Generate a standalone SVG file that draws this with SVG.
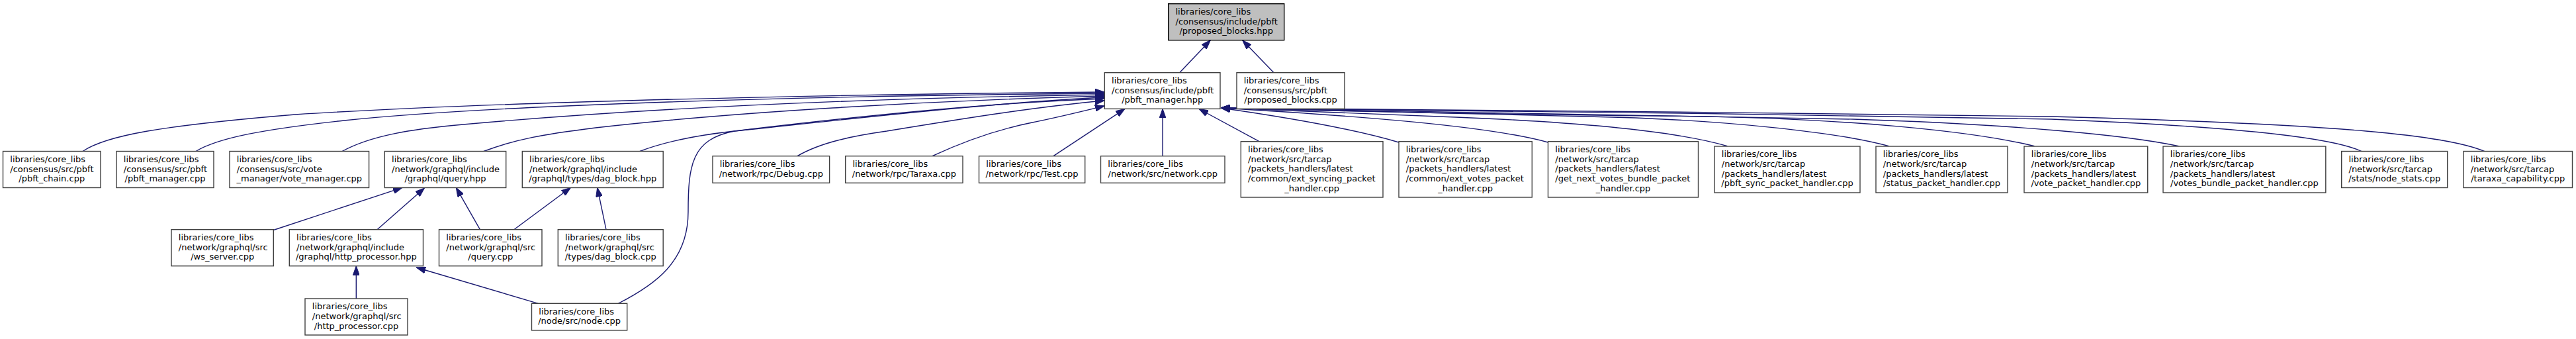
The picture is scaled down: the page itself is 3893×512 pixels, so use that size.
<svg xmlns="http://www.w3.org/2000/svg" width="3893" height="512" viewBox="0 0 3893 512">
<style>
.n rect{fill:#fff;stroke:#404040;stroke-width:1.4}
.root rect{fill:#bfbfbf;stroke:#000}
text{font-family:"DejaVu Sans","Liberation Sans",sans-serif;font-size:13px;fill:#000}
.c{text-anchor:middle}
#edges path{fill:none;stroke:#191970;stroke-width:1.4;marker-end:url(#ah)}
</style>
<defs>
<marker id="ah" markerUnits="userSpaceOnUse" viewBox="0 0 14 10" markerWidth="14" markerHeight="10" refX="14" refY="5" orient="auto">
<path d="M0,0 L14,5 L0,10 z" fill="#191970" stroke="#191970" stroke-width="1"/>
</marker>
</defs>
<rect width="3893" height="512" fill="#fff"/>
<g id="edges">
<path d="M1782.7,109.7 L1829.3,60.7"/>
<path d="M1925,109.7 L1877.7,60.7"/>
<path d="M125,228.5 C160,205 240,190 446,173 C600,163 1000,145 1669,139"/>
<path d="M296,228.5 C330,208 400,195 520,182 C700,163 1100,146 1669,141"/>
<path d="M517,228.5 C560,205 620,195 700,188 C900,170 1200,150 1669,143"/>
<path d="M731,228.5 C780,210 820,203 900,193 C1100,170 1400,152 1669,145"/>
<path d="M967,228.5 C1010,212 1060,203 1120,197 C1300,178 1500,155 1669,147"/>
<path d="M934,458.5 C990,430 1040,395 1040,320 C1040,250 1045,210 1110,198 C1300,175 1500,155 1669,149"/>
<path d="M1205,235.7 C1240,215 1290,205 1340,198 C1450,180 1560,162 1669,152"/>
<path d="M1409,235.7 C1460,212 1510,195 1560,185 C1600,177 1640,167 1669,160"/>
<path d="M1592,235.7 L1700,164.3"/>
<path d="M1757,235.7 L1757,164.3"/>
<path d="M1903,213.7 L1812,164.5"/>
<path d="M2114,215 C2050,196 1950,178 1845,163"/>
<path d="M2339.5,215 C2250,190 2050,175 1845,163"/>
<path d="M2610.5,220.7 C2540,200 2400,185 2200,177 C2050,171 1950,167 1845,163"/>
<path d="M2854.5,220.7 C2780,200 2600,180 2400,176 C2200,172 2000,167 1845,163"/>
<path d="M3074.6,220.7 C2990,200 2800,177 2500,175 C2200,172 2000,167 1845,163"/>
<path d="M3293.7,221 C3220,205 3050,188 2800,180 C2400,170 2100,166 1845,163"/>
<path d="M3569,228.7 C3520,205 3350,190 3100,180 C2700,172 2200,167 1845,163"/>
<path d="M3755,228.7 C3700,205 3550,188 3100,176 C2700,170 2200,166 1845,163"/>
<path d="M413.3,347.5 L608,283.3"/>
<path d="M570,346.7 L641.5,284"/>
<path d="M725.4,346.7 L689.3,283.3"/>
<path d="M776.8,346.7 L862.5,283.3"/>
<path d="M916,346.7 L902.7,283.3"/>
<path d="M538.3,451 L538.3,401.7"/>
<path d="M813.3,458.3 L629.3,404"/>
</g>
<g id="n_root" class="n root"><rect x="1765.7" y="5.7" width="175" height="55"/>
<text x="1776.5" y="22">libraries/core_libs</text><text x="1776.5" y="36.7">/consensus/include/pbft</text><text class="c" x="1853.2" y="51.4">/proposed_blocks.hpp</text></g>
<g id="n_pbft_manager_hpp" class="n"><rect x="1669.3" y="109.7" width="174.7" height="54.7"/>
<text x="1680.1" y="126">libraries/core_libs</text><text x="1680.1" y="140.7">/consensus/include/pbft</text><text class="c" x="1756.7" y="155.4">/pbft_manager.hpp</text></g>
<g id="n_proposed_blocks_cpp" class="n"><rect x="1869" y="109.7" width="163" height="54.7"/>
<text x="1879.8" y="126">libraries/core_libs</text><text x="1879.8" y="140.7">/consensus/src/pbft</text><text class="c" x="1950.5" y="155.4">/proposed_blocks.cpp</text></g>
<g id="n_pbft_chain" class="n"><rect x="4.5" y="228.5" width="147.5" height="55"/>
<text x="15.3" y="244.8">libraries/core_libs</text><text x="15.3" y="259.5">/consensus/src/pbft</text><text class="c" x="78.25" y="274.2">/pbft_chain.cpp</text></g>
<g id="n_pbft_manager_cpp" class="n"><rect x="176" y="228.5" width="147" height="55"/>
<text x="186.8" y="244.8">libraries/core_libs</text><text x="186.8" y="259.5">/consensus/src/pbft</text><text class="c" x="249.5" y="274.2">/pbft_manager.cpp</text></g>
<g id="n_vote_manager" class="n"><rect x="347" y="228.5" width="210.6" height="55"/>
<text x="357.8" y="244.8">libraries/core_libs</text><text x="357.8" y="259.5">/consensus/src/vote</text><text class="c" x="452.3" y="274.2">_manager/vote_manager.cpp</text></g>
<g id="n_query_hpp" class="n"><rect x="581.3" y="228.5" width="183.4" height="55"/>
<text x="592.1" y="244.8">libraries/core_libs</text><text x="592.1" y="259.5">/network/graphql/include</text><text class="c" x="673" y="274.2">/graphql/query.hpp</text></g>
<g id="n_dag_block_hpp" class="n"><rect x="789.3" y="228.5" width="212.9" height="55"/>
<text x="800.1" y="244.8">libraries/core_libs</text><text x="800.1" y="259.5">/network/graphql/include</text><text class="c" x="895.75" y="274.2">/graphql/types/dag_block.hpp</text></g>
<g id="n_debug" class="n"><rect x="1077" y="235.7" width="176.6" height="40.6"/>
<text x="1087.8" y="252">libraries/core_libs</text><text class="c" x="1165.3" y="266.7">/network/rpc/Debug.cpp</text></g>
<g id="n_taraxa" class="n"><rect x="1277.7" y="235.7" width="177.3" height="40.6"/>
<text x="1288.5" y="252">libraries/core_libs</text><text class="c" x="1366.35" y="266.7">/network/rpc/Taraxa.cpp</text></g>
<g id="n_test" class="n"><rect x="1479.5" y="235.7" width="160.2" height="40.6"/>
<text x="1490.3" y="252">libraries/core_libs</text><text class="c" x="1559.6" y="266.7">/network/rpc/Test.cpp</text></g>
<g id="n_network" class="n"><rect x="1663.5" y="235.7" width="187.5" height="40.6"/>
<text x="1674.3" y="252">libraries/core_libs</text><text class="c" x="1757.25" y="266.7">/network/src/network.cpp</text></g>
<g id="n_ext_syncing" class="n"><rect x="1875.3" y="213.7" width="214.7" height="84.3"/>
<text x="1886.1" y="230">libraries/core_libs</text><text x="1886.1" y="244.7">/network/src/tarcap</text><text x="1886.1" y="259.4">/packets_handlers/latest</text><text x="1886.1" y="274.1">/common/ext_syncing_packet</text><text class="c" x="1982.65" y="288.8">_handler.cpp</text></g>
<g id="n_ext_votes" class="n"><rect x="2114" y="213.7" width="201.3" height="84.3"/>
<text x="2124.8" y="230">libraries/core_libs</text><text x="2124.8" y="244.7">/network/src/tarcap</text><text x="2124.8" y="259.4">/packets_handlers/latest</text><text x="2124.8" y="274.1">/common/ext_votes_packet</text><text class="c" x="2214.65" y="288.8">_handler.cpp</text></g>
<g id="n_get_next_votes" class="n"><rect x="2339.5" y="213.7" width="227" height="84.3"/>
<text x="2350.3" y="230">libraries/core_libs</text><text x="2350.3" y="244.7">/network/src/tarcap</text><text x="2350.3" y="259.4">/packets_handlers/latest</text><text x="2350.3" y="274.1">/get_next_votes_bundle_packet</text><text class="c" x="2453" y="288.8">_handler.cpp</text></g>
<g id="n_pbft_sync" class="n"><rect x="2591" y="221" width="220" height="70"/>
<text x="2601.8" y="237.3">libraries/core_libs</text><text x="2601.8" y="252">/network/src/tarcap</text><text x="2601.8" y="266.7">/packets_handlers/latest</text><text class="c" x="2701" y="281.4">/pbft_sync_packet_handler.cpp</text></g>
<g id="n_status" class="n"><rect x="2835" y="221" width="199" height="70"/>
<text x="2845.8" y="237.3">libraries/core_libs</text><text x="2845.8" y="252">/network/src/tarcap</text><text x="2845.8" y="266.7">/packets_handlers/latest</text><text class="c" x="2934.5" y="281.4">/status_packet_handler.cpp</text></g>
<g id="n_vote_packet" class="n"><rect x="3059" y="221" width="186.7" height="70"/>
<text x="3069.8" y="237.3">libraries/core_libs</text><text x="3069.8" y="252">/network/src/tarcap</text><text x="3069.8" y="266.7">/packets_handlers/latest</text><text class="c" x="3152.35" y="281.4">/vote_packet_handler.cpp</text></g>
<g id="n_votes_bundle" class="n"><rect x="3269" y="221" width="245.8" height="70"/>
<text x="3279.8" y="237.3">libraries/core_libs</text><text x="3279.8" y="252">/network/src/tarcap</text><text x="3279.8" y="266.7">/packets_handlers/latest</text><text class="c" x="3391.9" y="281.4">/votes_bundle_packet_handler.cpp</text></g>
<g id="n_node_stats" class="n"><rect x="3538.7" y="228.5" width="160" height="55"/>
<text x="3549.5" y="244.8">libraries/core_libs</text><text x="3549.5" y="259.5">/network/src/tarcap</text><text class="c" x="3618.7" y="274.2">/stats/node_stats.cpp</text></g>
<g id="n_taraxa_capability" class="n"><rect x="3723" y="228.5" width="164.5" height="55"/>
<text x="3733.8" y="244.8">libraries/core_libs</text><text x="3733.8" y="259.5">/network/src/tarcap</text><text class="c" x="3805.25" y="274.2">/taraxa_capability.cpp</text></g>
<g id="n_ws_server" class="n"><rect x="259" y="346.7" width="154.3" height="55"/>
<text x="269.8" y="363">libraries/core_libs</text><text x="269.8" y="377.7">/network/graphql/src</text><text class="c" x="336.15" y="392.4">/ws_server.cpp</text></g>
<g id="n_http_processor_hpp" class="n"><rect x="437.3" y="346.7" width="202.2" height="55"/>
<text x="448.1" y="363">libraries/core_libs</text><text x="448.1" y="377.7">/network/graphql/include</text><text class="c" x="538.4" y="392.4">/graphql/http_processor.hpp</text></g>
<g id="n_query_cpp" class="n"><rect x="663.5" y="346.7" width="155.5" height="55"/>
<text x="674.3" y="363">libraries/core_libs</text><text x="674.3" y="377.7">/network/graphql/src</text><text class="c" x="741.25" y="392.4">/query.cpp</text></g>
<g id="n_dag_block_cpp" class="n"><rect x="843.3" y="346.7" width="158.9" height="55"/>
<text x="854.1" y="363">libraries/core_libs</text><text x="854.1" y="377.7">/network/graphql/src</text><text class="c" x="922.75" y="392.4">/types/dag_block.cpp</text></g>
<g id="n_http_processor_cpp" class="n"><rect x="461" y="451" width="155" height="55"/>
<text x="471.8" y="467.3">libraries/core_libs</text><text x="471.8" y="482">/network/graphql/src</text><text class="c" x="538.5" y="496.7">/http_processor.cpp</text></g>
<g id="n_node_cpp" class="n"><rect x="803.5" y="458.3" width="144.2" height="40.6"/>
<text x="814.3" y="474.6">libraries/core_libs</text><text class="c" x="875.6" y="489.3">/node/src/node.cpp</text></g>
</svg>
